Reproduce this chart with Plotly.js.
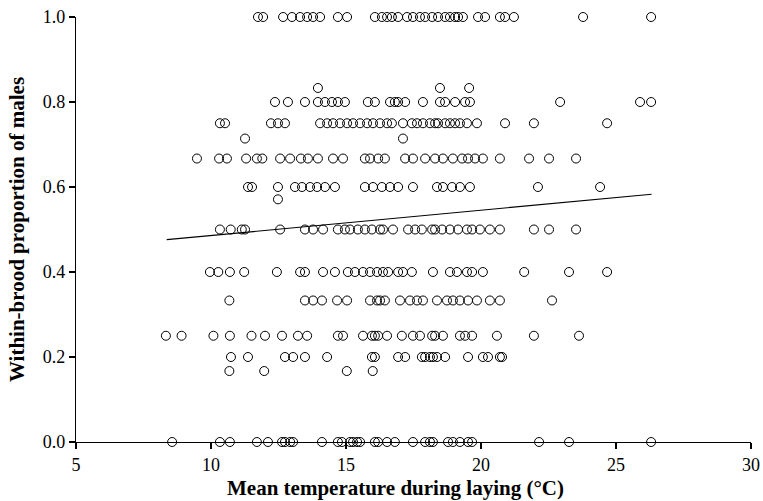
<!DOCTYPE html>
<html>
<head>
<meta charset="utf-8">
<script src="https://cdn.plot.ly/plotly-3.0.1.min.js"></script>
<style>html,body{margin:0;padding:0;background:#fff;}#chart{width:763px;height:501px;}</style>
</head>
<body>
<div id="chart"></div>
<script>
// Proportion levels and the temperatures (°C) of broods observed at each level
const levels = [1.0, 0.833, 0.8, 0.75, 0.714, 0.667, 0.6, 0.571, 0.5, 0.4, 0.333, 0.25, 0.2, 0.167, 0.0];

const temp_100 = [11.74, 11.93, 12.67, 13.0, 13.3, 13.56, 13.78, 14.04, 14.70, 15.04, 16.07, 16.33, 16.52, 16.7, 16.93, 17.26, 17.48, 17.74, 17.93, 18.19, 18.41, 18.67, 18.85, 19.04, 19.15, 19.33, 19.89, 20.15, 20.7, 20.89, 21.22, 23.78, 26.30];
const temp_083 = [13.96, 18.48, 19.56];
const temp_080 = [12.37, 12.85, 13.48, 13.96, 14.22, 14.48, 14.70, 14.96, 15.81, 16.07, 16.63, 16.81, 16.93, 17.19, 17.85, 18.48, 18.67, 19.04, 19.41, 19.59, 22.93, 25.89, 26.30];
const temp_075 = [10.33, 10.52, 12.22, 12.48, 12.74, 14.04, 14.3, 14.52, 14.78, 15.04, 15.26, 15.52, 15.78, 16.0, 16.26, 16.52, 16.70, 17.11, 17.44, 17.63, 17.85, 18.11, 18.30, 18.41, 18.67, 18.85, 19.04, 19.22, 19.48, 19.85, 20.89, 21.96, 24.67];
const temp_071 = [11.26, 17.11];
const temp_067 = [9.48, 10.3, 10.59, 11.3, 11.7, 11.9, 12.56, 12.93, 13.33, 13.59, 13.96, 14.52, 14.89, 15.7, 15.89, 16.19, 16.44, 17.19, 17.48, 17.93, 18.3, 18.59, 18.96, 19.3, 19.52, 19.78, 20.07, 20.7, 21.78, 22.52, 23.52];
const temp_060 = [11.37, 11.52, 12.48, 13.11, 13.37, 13.67, 13.93, 14.22, 14.59, 15.7, 16.0, 16.33, 16.63, 16.93, 17.48, 18.37, 18.59, 18.93, 19.22, 19.59, 22.11, 24.41];
const temp_057 = [12.48];
const temp_050 = [10.33, 10.73, 11.14, 11.26, 12.56, 13.48, 13.78, 14.15, 14.7, 14.96, 15.15, 15.44, 15.7, 15.96, 16.26, 16.37, 16.74, 17.3, 17.56, 17.81, 18.19, 18.3, 18.56, 18.85, 19.15, 19.48, 19.67, 19.96, 20.33, 20.7, 21.96, 22.52, 23.52];
const temp_040 = [9.96, 10.27, 10.7, 11.23, 12.44, 13.3, 13.48, 14.15, 14.59, 15.07, 15.33, 15.63, 15.89, 16.15, 16.37, 16.56, 16.93, 17.11, 17.44, 18.22, 18.85, 19.11, 19.48, 19.67, 20.07, 21.6, 23.26, 24.67];
const temp_033 = [10.68, 13.48, 13.78, 14.11, 14.67, 15.04, 15.89, 16.15, 16.26, 16.44, 17.0, 17.37, 17.63, 17.85, 18.37, 18.74, 18.96, 19.22, 19.52, 19.85, 20.33, 20.7, 22.63];
const temp_025 = [8.33, 8.91, 10.09, 10.70, 11.5, 12.0, 12.63, 13.22, 13.56, 14.7, 14.89, 15.63, 15.96, 16.07, 16.19, 16.52, 17.07, 17.48, 17.74, 18.19, 18.3, 18.59, 19.22, 19.41, 19.67, 20.59, 21.96, 23.63];
const temp_020 = [10.74, 11.37, 12.74, 13.04, 13.48, 14.3, 15.96, 16.07, 16.93, 17.19, 17.81, 17.93, 18.11, 18.22, 18.37, 18.67, 19.52, 20.07, 20.26, 20.7, 20.78];
const temp_017 = [10.68, 11.97, 15.03, 15.99];
const temp_000 = [8.56, 10.33, 10.70, 11.7, 12.11, 12.63, 12.74, 12.93, 13.04, 14.11, 14.7, 14.85, 15.15, 15.26, 15.41, 15.52, 16.07, 16.19, 16.52, 16.81, 17.48, 17.93, 18.11, 18.22, 18.78, 18.96, 19.22, 19.52, 19.67, 22.15, 23.26, 26.30];

const tempsByLevel = [temp_100, temp_083, temp_080, temp_075, temp_071, temp_067, temp_060, temp_057, temp_050, temp_040, temp_033, temp_025, temp_020, temp_017, temp_000];

// Fitted regression line end points
const fitTemp = [8.36, 26.32];
const fitProp = [0.476, 0.583];

const xTicks = [5, 10, 15, 20, 25, 30];
const yTicks = [0.0, 0.2, 0.4, 0.6, 0.8, 1.0];

const xTitle = 'Mean temperature during laying (°C)';
const yTitle = 'Within-brood proportion of males';

const ptsX = [], ptsY = [];
tempsByLevel.forEach((arr, i) => arr.forEach(t => { ptsX.push(t); ptsY.push(levels[i]); }));

const font = 'Liberation Serif';

const traces = [
  {
    x: fitTemp, y: fitProp, type: 'scatter', mode: 'lines',
    line: {color: '#000', width: 1.2}, hoverinfo: 'skip', cliponaxis: false
  },
  {
    x: ptsX, y: ptsY, type: 'scatter', mode: 'markers', cliponaxis: false,
    marker: {symbol: 'circle-open', size: 9, color: '#000', line: {width: 1, color: '#000'}}
  }
];

const layout = {
  width: 763, height: 501,
  margin: {l: 76, r: 12, t: 17, b: 59},
  paper_bgcolor: '#fff', plot_bgcolor: '#fff',
  showlegend: false,
  font: {family: font, color: '#000', size: 18},
  xaxis: {
    range: [5, 30], tickvals: xTicks, ticktext: xTicks.map(String),
    showline: true, linecolor: '#000', linewidth: 1.2,
    ticks: 'outside', ticklen: 6, tickcolor: '#000', tickwidth: 1.2,
    showgrid: false, zeroline: false,
    tickfont: {family: font, size: 18, color: '#000'}
  },
  yaxis: {
    range: [0, 1], tickvals: yTicks, ticktext: yTicks.map(v => v.toFixed(1)),
    showline: true, linecolor: '#000', linewidth: 1.2,
    ticks: 'outside', ticklen: 6, tickcolor: '#000', tickwidth: 1.2,
    showgrid: false, zeroline: false,
    tickfont: {family: font, size: 18, color: '#000'},
    title: {text: yTitle, font: {family: font, size: 21, color: '#000', weight: 'bold'}, standoff: 12}
  },
  annotations: [{
    text: xTitle, xref: 'paper', yref: 'paper',
    x: (395 - 76) / 675, y: -0.108, xanchor: 'center', yanchor: 'middle',
    showarrow: false, font: {family: font, size: 21, color: '#000', weight: 'bold'}
  }]
};

Plotly.newPlot('chart', traces, layout, {staticPlot: true, displayModeBar: false});
</script>
</body>
</html>
